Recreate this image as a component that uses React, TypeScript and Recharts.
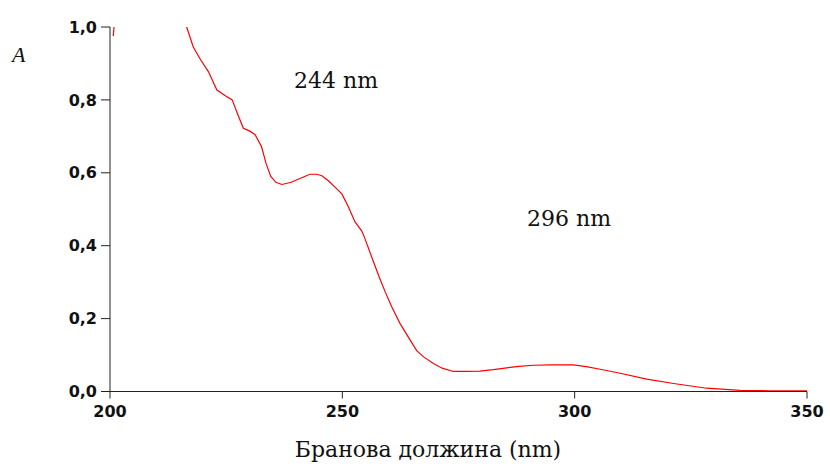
import { LineChart, Line, XAxis, YAxis } from "recharts";

// UV spectrum, absorbance vs wavelength
const wavelength = [
  200.7, 201.0, 201.4, 208.6, 214.0, 216.5, 217.9, 219.5, 221.2, 223.0, 225.0, 226.3, 227.5,
  228.7, 230.0, 231.2, 232.6, 233.6, 234.6, 235.7, 237.0, 239.0, 241.0, 243.0, 244.5, 245.6,
  247.0, 248.3, 249.9, 251.3, 252.7, 254.2, 254.9, 256.7, 258.0, 259.2, 260.6, 262.4, 264.6,
  266.0, 267.5, 269.6, 271.5, 273.9, 276.5, 279.6, 282.5, 285.4, 288.0, 291.1, 295.0, 299.7,
  302.5, 305.5, 309.8, 315.5, 321.3, 328.4, 335.6, 342.0, 350.0,
];
const absorbance = [
  0.975, 1.02, 1.15, 1.3, 1.1, 1.0, 0.946, 0.91, 0.877, 0.827, 0.81, 0.8, 0.76,
  0.722, 0.715, 0.705, 0.672, 0.625, 0.59, 0.574, 0.568, 0.574, 0.585, 0.596, 0.596, 0.592,
  0.578, 0.562, 0.542, 0.507, 0.466, 0.44, 0.418, 0.356, 0.312, 0.274, 0.233, 0.187, 0.141,
  0.112, 0.095, 0.077, 0.064, 0.055, 0.055, 0.056, 0.06, 0.065, 0.069, 0.072, 0.073, 0.073,
  0.068, 0.061, 0.05, 0.034, 0.022, 0.009, 0.003, 0.002, 0.002,
];
const xTicks = [200, 250, 300, 350];
const yTicks = [0, 0.2, 0.4, 0.6, 0.8, 1.0];

const peakLabels = ["244 nm", "296 nm"];
const xTitle = "Бранова должина (nm)";
const yTitle = "A";

const data = wavelength.map((w, i) => ({ nm: w, a: absorbance[i] }));

const tickFont = { fontFamily: "DejaVu Sans", fontWeight: "bold", fontSize: 16, fill: "#111" };
const serif = "DejaVu Serif";

export default function App() {
  return (
    <div style={{ position: "absolute", left: 0, top: 0, width: 830, height: 464, background: "#fff" }}>
      <LineChart width={830} height={464} data={data} margin={{ top: 27, right: 23, left: 0, bottom: 42.5 }}>
        <XAxis
          dataKey="nm"
          type="number"
          domain={[200, 350]}
          ticks={xTicks}
          height={30}
          tickSize={7}
          tickMargin={7}
          stroke="#222"
          tick={tickFont}
          tickFormatter={(v) => String(v)}
        />
        <YAxis
          type="number"
          domain={[0, 1]}
          allowDataOverflow
          ticks={yTicks}
          width={110}
          tickSize={9}
          tickMargin={4}
          stroke="#222"
          tick={tickFont}
          tickFormatter={(v) => v.toFixed(1).replace(".", ",")}
        />
        <Line
          type="linear"
          dataKey="a"
          stroke="#ff0000"
          strokeWidth={1.2}
          dot={false}
          isAnimationActive={false}
        />
      </LineChart>
      <svg width={830} height={464} style={{ position: "absolute", left: 0, top: 0, pointerEvents: "none" }}>
        <text x={12} y={62} fontFamily="Liberation Serif" fontStyle="italic" fontSize={22} fill="#111">
          {yTitle}
        </text>
        <text x={294} y={88} fontFamily={serif} fontSize={22} fill="#111">
          {peakLabels[0]}
        </text>
        <text x={527} y={226} fontFamily={serif} fontSize={22} fill="#111">
          {peakLabels[1]}
        </text>
        <text x={428} y={457} textAnchor="middle" fontFamily={serif} fontSize={22} fill="#111">
          {xTitle}
        </text>
      </svg>
    </div>
  );
}
